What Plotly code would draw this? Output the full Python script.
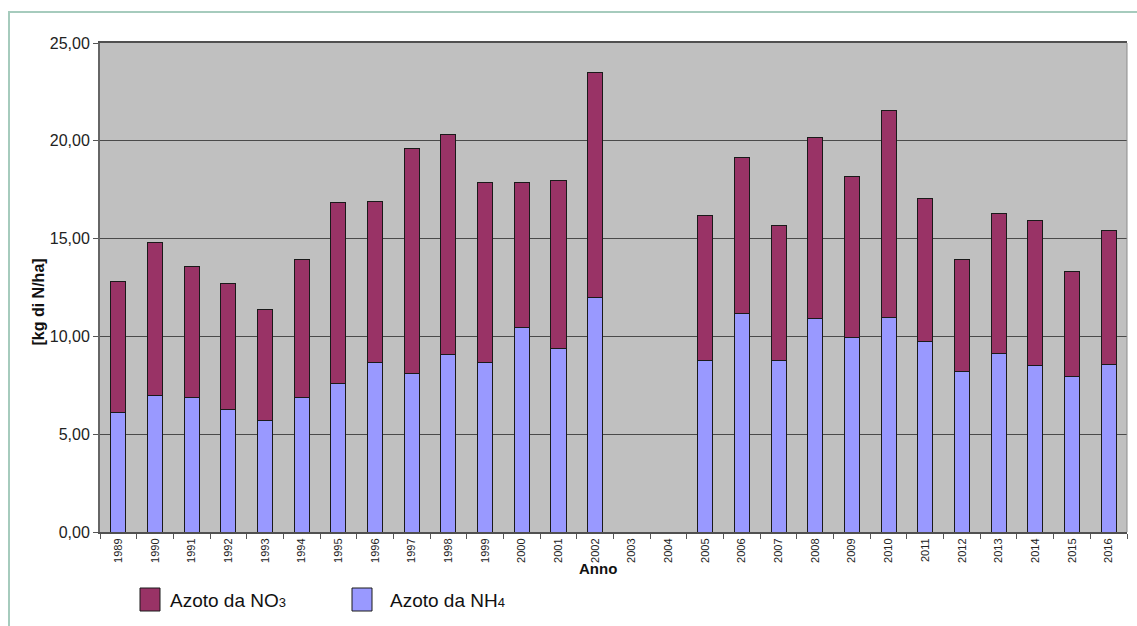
import plotly.graph_objects as go

# Annual nitrogen deposition, kg N/ha
years = ["1989", "1990", "1991", "1992", "1993", "1994", "1995", "1996", "1997",
         "1998", "1999", "2000", "2001", "2002", "2003", "2004", "2005", "2006",
         "2007", "2008", "2009", "2010", "2011", "2012", "2013", "2014", "2015", "2016"]
azoto_nh4 = [6.09, 6.98, 6.88, 6.28, 5.72, 6.86, 7.61, 8.69, 8.11, 9.08, 8.65, 10.46,
             9.39, 11.98, None, None, 8.75, 11.18, 8.79, 10.94, 9.95, 10.97, 9.76,
             8.21, 9.15, 8.53, 7.94, 8.57]
azoto_no3 = [6.74, 7.82, 6.67, 6.45, 5.66, 7.05, 9.23, 8.22, 11.48, 11.26, 9.23, 7.42,
             8.56, 11.50, None, None, 7.43, 7.95, 6.89, 9.25, 8.21, 10.60, 7.30,
             5.73, 7.13, 7.41, 5.37, 6.82]
y_ticks = [0, 5, 10, 15, 20, 25]

W, H = 1137, 626
ML, MR, MT, MB = 100, 10, 43, 94
FONT = "Liberation Sans Narrow, Arial Narrow, Liberation Sans, Arial, sans-serif"
C_NO3 = "#993366"
C_NH4 = "#9999ff"


def px_x(x):
    return (x - ML) / (W - ML - MR)


def px_y(y):
    return (H - MB - y) / (H - MT - MB)


fig = go.Figure()
fig.add_trace(go.Bar(x=years, y=azoto_nh4, name="Azoto da NH4",
                     marker=dict(color=C_NH4, line=dict(color="#1a1a1a", width=1))))
fig.add_trace(go.Bar(x=years, y=azoto_no3, name="Azoto da NO3",
                     marker=dict(color=C_NO3, line=dict(color="#1a1a1a", width=1))))

shapes = [
    # outer frame
    dict(type="rect", xref="paper", yref="paper",
         x0=px_x(9), x1=px_x(W + 20), y0=px_y(12), y1=px_y(H + 20),
         line=dict(color="#a6cbbd", width=2), fillcolor="rgba(0,0,0,0)", layer="below"),
    # right edge of plot area
    dict(type="line", xref="paper", yref="paper", x0=1, x1=1, y0=0, y1=1,
         line=dict(color="#8c8c8c", width=1)),
    # legend swatches
    dict(type="rect", xref="paper", yref="paper",
         x0=px_x(140), x1=px_x(160), y0=px_y(588), y1=px_y(611),
         fillcolor=C_NO3, line=dict(color="#1a1a1a", width=1)),
    dict(type="rect", xref="paper", yref="paper",
         x0=px_x(352), x1=px_x(372), y0=px_y(588), y1=px_y(611),
         fillcolor=C_NH4, line=dict(color="#1a1a1a", width=1)),
]

annotations = [
    dict(text="<b>Anno</b>", xref="paper", yref="paper", x=px_x(598), y=px_y(579),
         showarrow=False, font=dict(family=FONT, size=15, color="#111")),
    dict(text="<b>[kg di N/ha]</b>", xref="paper", yref="paper", x=px_x(27), y=px_y(302),
         textangle=-90, showarrow=False, font=dict(family=FONT, size=16, color="#111")),
    dict(text="Azoto da NO<span style='font-size:13px'>3</span>", xref="paper", yref="paper",
         x=px_x(168), y=px_y(600), xanchor="left", yanchor="middle", showarrow=False,
         font=dict(family=FONT, size=19, color="#111")),
    dict(text="Azoto da NH<span style='font-size:13px'>4</span>", xref="paper", yref="paper",
         x=px_x(388), y=px_y(600), xanchor="left", yanchor="middle", showarrow=False,
         font=dict(family=FONT, size=19, color="#111")),
]

fig.update_layout(
    width=W, height=H,
    margin=dict(l=ML, r=MR, t=MT, b=MB),
    barmode="stack", bargap=0.59,
    showlegend=False,
    paper_bgcolor="white", plot_bgcolor="#c0c0c0",
    separators=",.",
    font=dict(family=FONT, color="#111"),
    shapes=shapes, annotations=annotations,
)
fig.update_xaxes(
    type="category", tickson="boundaries", ticks="outside", ticklen=5,
    tickcolor="#555", tickangle=-90, tickfont=dict(family=FONT, size=11, color="#222"),
    showline=True, linecolor="#505050", linewidth=2, mirror=True,
    showgrid=False, fixedrange=True,
)
fig.update_yaxes(
    range=[0, 25], tickvals=y_ticks, tickformat=".2f", ticks="outside", ticklen=5,
    tickcolor="#555", tickfont=dict(family=FONT, size=16, color="#222"),
    showgrid=True, gridcolor="#4a4a4a", gridwidth=1,
    showline=True, linecolor="#666", linewidth=2, zeroline=False, fixedrange=True,
)

fig.write_html("out.html")
